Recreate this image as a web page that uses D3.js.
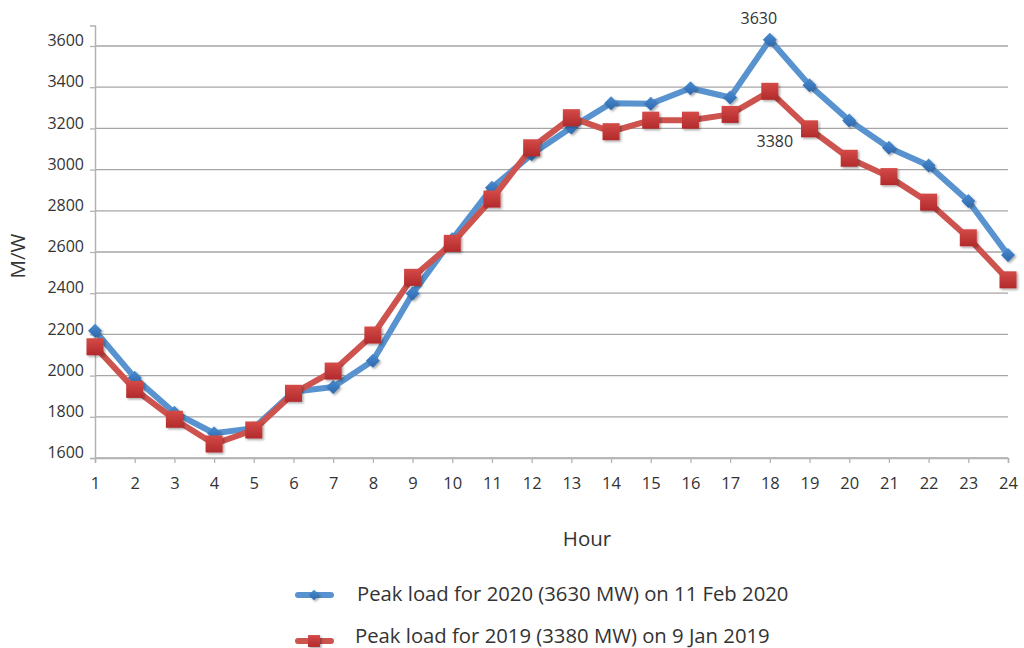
<!DOCTYPE html>
<html><head><meta charset="utf-8">
<script src="https://cdn.jsdelivr.net/npm/d3@7"></script>
<style>
html,body{margin:0;padding:0;background:#fff;}
svg{display:block;font-family:"Open Sans",sans-serif;}
</style></head>
<body><svg id="c" width="1024" height="648"></svg>
<script>
const hours = d3.range(1, 25);
const load2020 = [2218,1990,1820,1720,1745,1922,1945,2072,2398,2662,2912,3074,3204,3322,3320,3395,3350,3630,3410,3238,3106,3020,2848,2586];
const load2019 = [2140,1933,1788,1668,1736,1914,2022,2197,2477,2642,2857,3106,3252,3184,3240,3240,3268,3380,3198,3055,2966,2842,2669,2465];
const yTicks = [1600,1800,2000,2200,2400,2600,2800,3000,3200,3400,3600];
const seriesNames = ["Peak load for 2020 (3630 MW) on 11 Feb 2020","Peak load for 2019 (3380 MW) on 9 Jan 2019"];
const peakLabels = [{s:0, hour:18, text:"3630"},{s:1, hour:18, text:"3380"}];

const svg = d3.select("#c");
const x = d3.scaleLinear().domain([1,24]).range([95,1008]);
const y = d3.scaleLinear().domain([1600,3700]).range([458,25.4]);

const defs = svg.append("defs");
const f = defs.append("filter").attr("id","sh").attr("x","-50%").attr("y","-50%").attr("width","200%").attr("height","200%");
f.append("feDropShadow").attr("dx",1.5).attr("dy",1.5).attr("stdDeviation",1.2).attr("flood-color","#000").attr("flood-opacity",0.35);
const gr = defs.append("linearGradient").attr("id","gr").attr("x1",0).attr("y1",0).attr("x2",0).attr("y2",1);
gr.append("stop").attr("offset","0%").attr("stop-color","#d44a47");
gr.append("stop").attr("offset","100%").attr("stop-color","#b22a2c");
const gb = defs.append("linearGradient").attr("id","gb").attr("x1",0).attr("y1",0).attr("x2",0).attr("y2",1);
gb.append("stop").attr("offset","0%").attr("stop-color","#4a8bd0");
gb.append("stop").attr("offset","100%").attr("stop-color","#2d67ad");

// gridlines
svg.append("g").selectAll("line").data(yTicks).join("line")
  .attr("x1",95).attr("x2",1008).attr("y1",d=>y(d)).attr("y2",d=>y(d))
  .attr("stroke","#a6a6a6").attr("stroke-width",1.3);

// y axis
const ya = svg.append("g").attr("transform","translate(95,0)")
  .call(d3.axisLeft(y).tickValues(yTicks).tickSize(5).tickPadding(6).tickFormat(d3.format("d")));
ya.select(".domain").attr("stroke","#b3b3b3").attr("stroke-width",1.5);
ya.selectAll(".tick line").attr("stroke","#b3b3b3").attr("stroke-width",1.3);
ya.selectAll("text").attr("font-size",16).attr("fill","#333").attr("font-family","Open Sans").attr("dy","-0.02em");

// x axis
const xa = svg.append("g").attr("transform","translate(0,458)")
  .call(d3.axisBottom(x).tickValues(hours).tickSize(5).tickPadding(14).tickFormat(d3.format("d")));
xa.select(".domain").attr("stroke","#b3b3b3").attr("stroke-width",1.5);
xa.selectAll(".tick line").attr("stroke","#b3b3b3").attr("stroke-width",1.3);
xa.selectAll("text").attr("font-size",16.5).attr("fill","#333").attr("font-family","Open Sans");

// axis titles
svg.append("text").attr("x",587).attr("y",546).attr("text-anchor","middle")
  .attr("font-size",20.5).attr("fill","#333").text("Hour");
svg.append("text").attr("transform","translate(25,256) rotate(-90)").attr("text-anchor","middle")
  .attr("font-size",20.5).attr("fill","#333").text("M/W");

const line = d3.line().x((d,i)=>x(hours[i])).y(d=>y(d));
const colors = [{line:"#5893cf", mark:"url(#gb)"},{line:"#cd534f", mark:"url(#gr)"}];
const data = [load2020, load2019];

function marker(g, s, cx, cy, scale){
  if(s===0){
    const r = 7*scale;
    g.append("path").attr("d",`M${cx},${cy-r}L${cx+r},${cy}L${cx},${cy+r}L${cx-r},${cy}Z`)
      .attr("fill",colors[0].mark).attr("filter","url(#sh)");
  } else {
    const h = 8.5*scale;
    g.append("rect").attr("x",cx-h).attr("y",cy-h).attr("width",2*h).attr("height",2*h)
      .attr("fill",colors[1].mark).attr("filter","url(#sh)");
  }
}

data.forEach((vals,s)=>{
  const g = svg.append("g");
  g.append("path").attr("d",line(vals)).attr("fill","none")
    .attr("stroke",colors[s].line).attr("stroke-width",6).attr("stroke-linejoin","round");
  vals.forEach((v,i)=>marker(g,s,x(hours[i]),y(v),1));
});

// data labels
peakLabels.forEach(p=>{
  const v = data[p.s][p.hour-1];
  const px = x(p.hour);
  if(p.s===0){
    svg.append("text").attr("x",px-11).attr("y",y(v)-16).attr("text-anchor","middle")
      .attr("font-size",16).attr("fill","#333").text(p.text);
  } else {
    svg.append("text").attr("x",px+5).attr("y",y(v)+56).attr("text-anchor","middle")
      .attr("font-size",16).attr("fill","#333").text(p.text);
  }
});

// legend
const legY = [595, 641];
const legTX = [357, 355];
seriesNames.forEach((name,s)=>{
  const g = svg.append("g");
  g.append("line").attr("x1",298).attr("x2",331).attr("y1",legY[s]).attr("y2",legY[s])
    .attr("stroke",colors[s].line).attr("stroke-width",6).attr("stroke-linecap","round");
  marker(g,s,314,legY[s],s===0?0.75:0.7);
  g.append("text").attr("x",legTX[s]).attr("y",legY[s]).attr("dy","0.35em")
    .attr("font-size",20.3).attr("fill","#333").text(name)
    .attr("transform", s===1 ? "translate(0,-5)" : "translate(0,-1)");
});
</script></body></html>
